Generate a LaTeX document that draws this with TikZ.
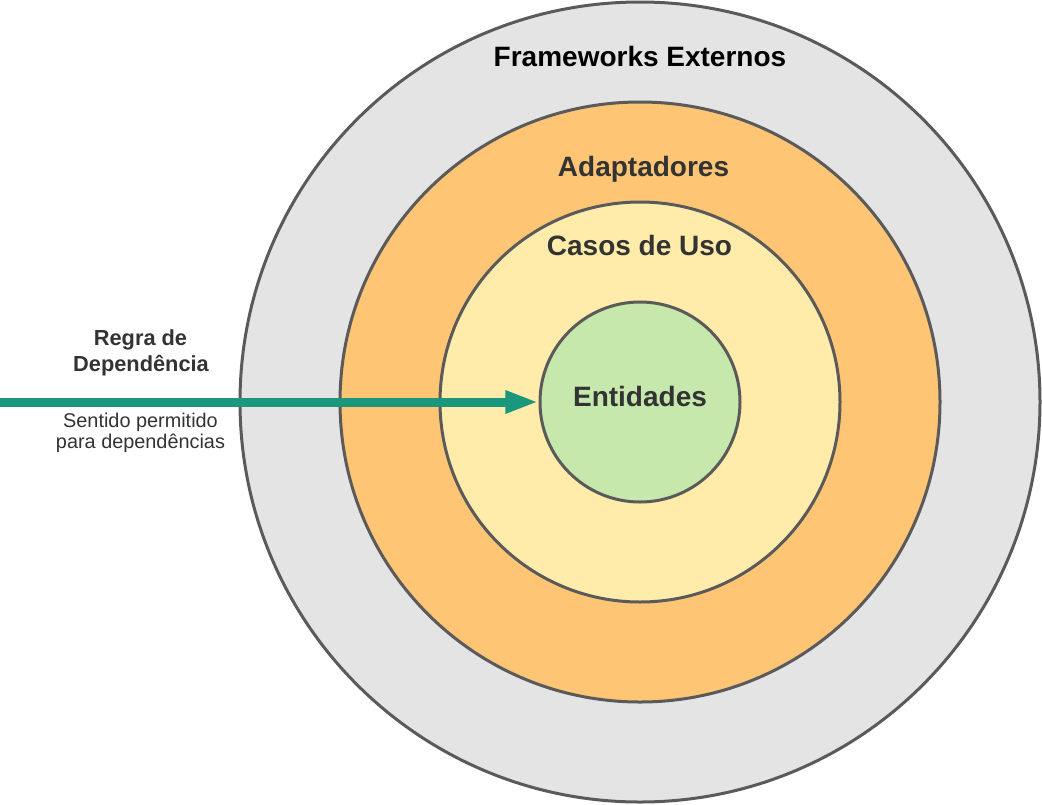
\documentclass[tikz,border=0pt]{standalone}
\usepackage{fontspec}
\setmainfont{Liberation Sans}
\usetikzlibrary{arrows.meta}
\definecolor{ringgray}{HTML}{E4E4E4}
\definecolor{ringorange}{HTML}{FEC575}
\definecolor{ringyellow}{HTML}{FFEBAA}
\definecolor{ringgreen}{HTML}{C7E8AC}
\definecolor{ringborder}{HTML}{5A5A5A}
\definecolor{arrowteal}{HTML}{1A977C}
\definecolor{textdark}{HTML}{333333}
\tikzset{
  layer/.style={circle, draw=ringborder, line width=2.25pt, inner sep=0pt, outer sep=0pt},
  layerlabel/.style={anchor=base, inner sep=0pt, text=textdark, font=\fontsize{21}{25}\selectfont\bfseries},
  rulelabel/.style={anchor=base, inner sep=0pt, text=textdark, font=\fontsize{16.35}{19.5}\selectfont\bfseries},
  rulenote/.style={anchor=base, inner sep=0pt, text=textdark, font=\fontsize{14.9}{17}\selectfont},
  deparrow/.style={draw=arrowteal, line width=6.75pt, -{Triangle[length=24.75pt,width=15.75pt]}, shorten >=1.2pt}
}
\begin{document}
\begin{tikzpicture}[x=0.75pt, y=-0.75pt]
\useasboundingbox (0,0) rectangle (1042,804);
\node[layer, fill=ringgray,   minimum size=600pt] (fw)  at (640,402) {};
\node[layer, fill=ringorange, minimum size=450pt] (ad)  at (640,402) {};
\node[layer, fill=ringyellow, minimum size=300pt] (uc)  at (640,402) {};
\node[layer, fill=ringgreen,  minimum size=150pt] (ent) at (640,402) {};
\node[layerlabel, text=black] (fwl) at (640,66) {Frameworks Externos};
\node[layerlabel] (adl) at (643.5,176) {Adaptadores};
\node[layerlabel] (ucl) at (639.5,255) {Casos de Uso};
\node[layerlabel] (entl) at (640,406.7) {Entidades};
\coordinate (src) at (0,402);
\draw[deparrow] (src) -- (ent.west);
\node[rulelabel] (r1) at (140.5,345.7) {Regra de};
\node[rulelabel] (r2) at (141,371.7) {Dependência};
\node[rulenote] (n1) at (140.5,427.3) {Sentido permitido};
\node[rulenote] (n2) at (140.5,448) {para dependências};
\end{tikzpicture}
\end{document}
